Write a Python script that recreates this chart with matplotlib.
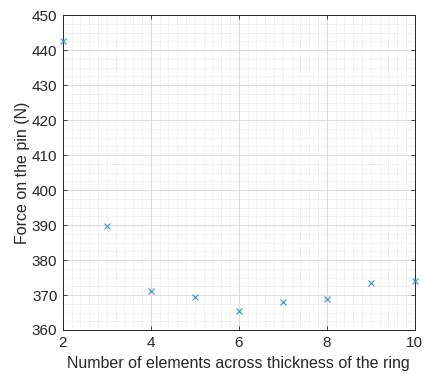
import matplotlib
matplotlib.use("Agg")
import matplotlib.pyplot as plt
from matplotlib.ticker import MultipleLocator

n_elements = [2, 3, 4, 5, 6, 7, 8, 9, 10]
force = [442.6, 389.6, 371.1, 369.4, 365.4, 368.0, 368.9, 373.4, 374.0]

plt.rcParams["font.family"] = ["Liberation Sans", "DejaVu Sans"]

fig = plt.figure(figsize=(4.25, 3.78), dpi=100)
ax = fig.add_axes([0.148, 0.127, 0.828, 0.833])

ax.plot(n_elements, force, linestyle="none", marker="x", color="#3d8fd0",
        markersize=4, markeredgewidth=0.8, clip_on=False, zorder=3)

ax.set_xlim(2, 10)
ax.set_ylim(360, 450)
ax.xaxis.set_major_locator(MultipleLocator(2))
ax.xaxis.set_minor_locator(MultipleLocator(0.2))
ax.yaxis.set_major_locator(MultipleLocator(10))
ax.yaxis.set_minor_locator(MultipleLocator(2.5))

ax.grid(which="major", color="#dcdcdc", linewidth=0.7)
ax.grid(which="minor", color="#d8d8d8", linestyle=":", linewidth=0.6)
ax.set_axisbelow(True)

for s in ax.spines.values():
    s.set_color("#262626")
    s.set_linewidth(0.7)
ax.tick_params(which="major", direction="in", top=True, right=True, length=3,
               width=0.6, colors="#262626", labelsize=11, pad=4)
ax.tick_params(which="minor", length=0)

ax.set_xlabel("Number of elements across thickness of the ring", fontsize=11.5,
              color="#262626", labelpad=5)
ax.set_ylabel("Force on the pin (N)", fontsize=11.5, color="#262626", labelpad=1)

fig.savefig("out.png", dpi=100)
